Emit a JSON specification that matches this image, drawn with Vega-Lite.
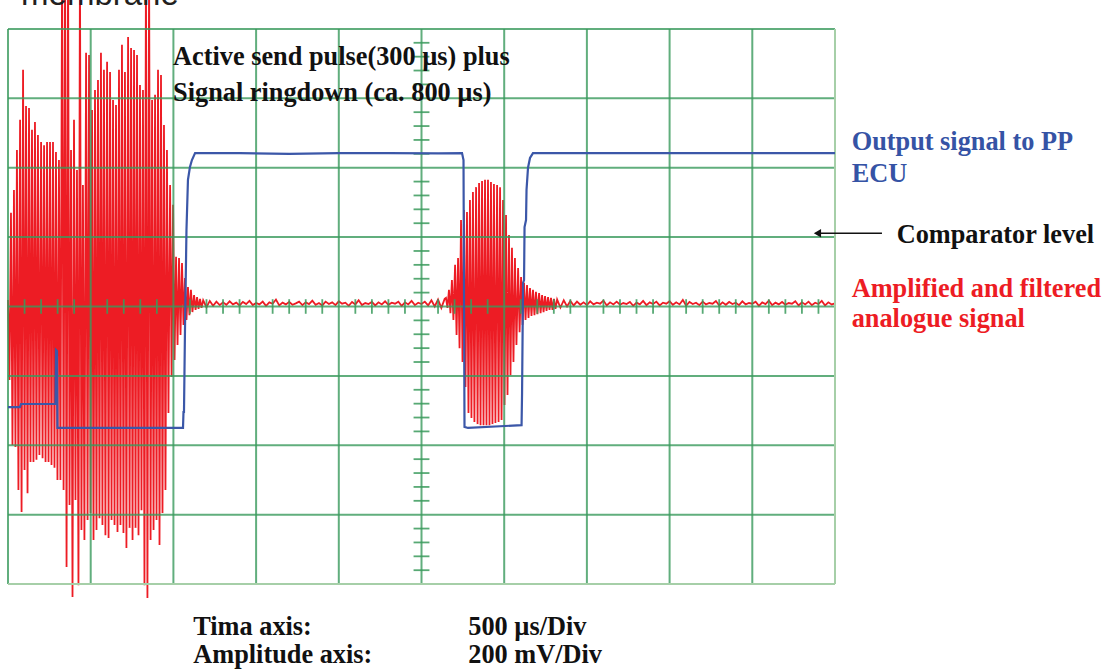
{
  "$schema": "https://vega.github.io/schema/vega-lite/v6.json",
  "width": 1106,
  "height": 670,
  "autosize": {"type": "none"},
  "padding": 0,
  "background": "white",
  "config": {"view": {"stroke": null}},
  "datasets": {
    "red": [
      {"t":0,"v":19},{"t":9,"v":-212},{"t":18,"v":270},{"t":27,"v":-399},{"t":36,"v":336},{"t":45,"v":-405},{"t":54,"v":451},{"t":63,"v":-529},{"t":73,"v":538},{"t":82,"v":-592},{"t":91,"v":682},{"t":100,"v":-471},{"t":109,"v":578},{"t":118,"v":-538},{"t":127,"v":572},{"t":136,"v":-448},{"t":145,"v":509},{"t":154,"v":-448},{"t":163,"v":532},{"t":172,"v":-442},{"t":181,"v":494},{"t":190,"v":-428},{"t":200,"v":474},{"t":209,"v":-437},{"t":218,"v":465},{"t":227,"v":-448},{"t":236,"v":474},{"t":245,"v":-448},{"t":254,"v":474},{"t":263,"v":-457},{"t":272,"v":474},{"t":281,"v":-465},{"t":290,"v":445},{"t":299,"v":-500},{"t":308,"v":422},{"t":317,"v":-500},{"t":327,"v":1000},{"t":336,"v":-529},{"t":345,"v":1000},{"t":354,"v":-751},{"t":363,"v":1000},{"t":372,"v":-572},{"t":381,"v":451},{"t":390,"v":-837},{"t":399,"v":538},{"t":408,"v":-558},{"t":417,"v":393},{"t":426,"v":-803},{"t":435,"v":1000},{"t":444,"v":-644},{"t":453,"v":350},{"t":462,"v":-673},{"t":472,"v":731},{"t":481,"v":-615},{"t":490,"v":725},{"t":499,"v":-595},{"t":508,"v":566},{"t":517,"v":-673},{"t":526,"v":624},{"t":535,"v":-644},{"t":544,"v":653},{"t":553,"v":-610},{"t":562,"v":731},{"t":571,"v":-630},{"t":580,"v":682},{"t":589,"v":-659},{"t":599,"v":705},{"t":608,"v":-667},{"t":617,"v":676},{"t":626,"v":-615},{"t":635,"v":595},{"t":644,"v":-630},{"t":653,"v":581},{"t":662,"v":-650},{"t":671,"v":682},{"t":680,"v":-630},{"t":689,"v":754},{"t":698,"v":-653},{"t":707,"v":676},{"t":716,"v":-696},{"t":726,"v":777},{"t":735,"v":-638},{"t":744,"v":745},{"t":753,"v":-673},{"t":762,"v":739},{"t":771,"v":-638},{"t":780,"v":725},{"t":789,"v":-659},{"t":798,"v":638},{"t":807,"v":-587},{"t":816,"v":624},{"t":825,"v":-803},{"t":834,"v":1000},{"t":843,"v":-840},{"t":853,"v":1000},{"t":862,"v":-673},{"t":871,"v":595},{"t":880,"v":-644},{"t":889,"v":610},{"t":898,"v":-615},{"t":907,"v":682},{"t":916,"v":-687},{"t":925,"v":667},{"t":934,"v":-595},{"t":943,"v":523},{"t":952,"v":-529},{"t":961,"v":451},{"t":970,"v":-307},{"t":980,"v":350},{"t":989,"v":-203},{"t":998,"v":293},{"t":1007,"v":-154},{"t":1016,"v":143},{"t":1025,"v":-111},{"t":1034,"v":140},{"t":1043,"v":-82},{"t":1052,"v":125},{"t":1061,"v":-53},{"t":1070,"v":82},{"t":1079,"v":-39},{"t":1088,"v":56},{"t":1097,"v":-25},{"t":1106,"v":48},{"t":1115,"v":-16},{"t":1125,"v":33},{"t":1134,"v":-10},{"t":1143,"v":27},{"t":1152,"v":-7},{"t":1161,"v":22},{"t":1170,"v":-4},
      {"t":1180,"v":18},{"t":1200,"v":-2},{"t":1220,"v":16},{"t":1240,"v":2},{"t":1260,"v":14},{"t":1280,"v":4},{"t":1300,"v":12},{"t":1320,"v":5},{"t":1340,"v":15},{"t":1360,"v":6},{"t":1380,"v":11},{"t":1400,"v":3},{"t":1420,"v":13},{"t":1440,"v":7},{"t":1460,"v":16},{"t":1480,"v":4},{"t":1500,"v":10},{"t":1520,"v":6},{"t":1540,"v":14},{"t":1560,"v":2},{"t":1580,"v":12},{"t":1600,"v":8},{"t":1620,"v":20},{"t":1640,"v":3},{"t":1660,"v":11},{"t":1680,"v":6},{"t":1700,"v":13},{"t":1720,"v":5},{"t":1740,"v":9},{"t":1760,"v":14},{"t":1780,"v":4},{"t":1800,"v":12},{"t":1820,"v":7},{"t":1840,"v":17},{"t":1860,"v":5},{"t":1880,"v":10},{"t":1900,"v":3},{"t":1920,"v":14},{"t":1940,"v":7},{"t":1960,"v":12},{"t":1980,"v":4},{"t":2000,"v":15},{"t":2020,"v":8},{"t":2040,"v":11},{"t":2060,"v":2},{"t":2080,"v":13},{"t":2100,"v":6},{"t":2120,"v":18},{"t":2140,"v":4},{"t":2160,"v":10},{"t":2180,"v":7},{"t":2200,"v":13},{"t":2220,"v":3},{"t":2240,"v":12},{"t":2260,"v":6},{"t":2280,"v":15},{"t":2300,"v":5},{"t":2320,"v":11},{"t":2340,"v":8},{"t":2360,"v":14},{"t":2380,"v":2},{"t":2400,"v":12},{"t":2420,"v":6},{"t":2440,"v":16},{"t":2460,"v":4},{"t":2480,"v":11},{"t":2500,"v":7},{"t":2520,"v":14},{"t":2540,"v":3},{"t":2560,"v":18},{"t":2580,"v":0},{"t":2600,"v":20},{"t":2620,"v":-4},{"t":2640,"v":22},
      {"t":2648,"v":25},{"t":2657,"v":-4},{"t":2666,"v":48},{"t":2675,"v":-19},{"t":2684,"v":76},{"t":2693,"v":-39},{"t":2703,"v":120},{"t":2712,"v":-82},{"t":2721,"v":140},{"t":2730,"v":-120},{"t":2739,"v":249},{"t":2748,"v":-160},{"t":2757,"v":278},{"t":2766,"v":-232},{"t":2775,"v":272},{"t":2784,"v":-307},{"t":2793,"v":307},{"t":2802,"v":-321},{"t":2811,"v":330},{"t":2820,"v":-333},{"t":2830,"v":344},{"t":2839,"v":-339},{"t":2848,"v":356},{"t":2857,"v":-342},{"t":2866,"v":362},{"t":2875,"v":-342},{"t":2884,"v":365},{"t":2893,"v":-342},{"t":2902,"v":365},{"t":2911,"v":-342},{"t":2920,"v":359},{"t":2929,"v":-339},{"t":2938,"v":353},{"t":2947,"v":-336},{"t":2957,"v":350},{"t":2966,"v":-333},{"t":2975,"v":344},{"t":2984,"v":-327},{"t":2993,"v":307},{"t":3002,"v":-284},{"t":3011,"v":264},{"t":3020,"v":-255},{"t":3029,"v":206},{"t":3038,"v":-198},{"t":3047,"v":169},{"t":3056,"v":-160},{"t":3065,"v":140},{"t":3074,"v":-111},{"t":3084,"v":111},{"t":3093,"v":-74},{"t":3102,"v":85},{"t":3111,"v":-53},{"t":3120,"v":68},{"t":3129,"v":-39},{"t":3138,"v":62},{"t":3147,"v":-33},{"t":3156,"v":53},{"t":3165,"v":-27},{"t":3174,"v":48},{"t":3183,"v":-25},{"t":3192,"v":42},{"t":3201,"v":-22},{"t":3211,"v":39},{"t":3220,"v":-19},{"t":3229,"v":33},{"t":3238,"v":-16},{"t":3247,"v":30},{"t":3256,"v":-13},{"t":3265,"v":27},{"t":3274,"v":-10},{"t":3283,"v":25},{"t":3292,"v":-10},{"t":3301,"v":22},{"t":3310,"v":-7},
      {"t":3320,"v":20},{"t":3340,"v":-3},{"t":3360,"v":18},{"t":3380,"v":0},{"t":3400,"v":16},{"t":3420,"v":3},{"t":3440,"v":14},{"t":3460,"v":5},{"t":3480,"v":12},{"t":3500,"v":4},{"t":3520,"v":15},{"t":3540,"v":6},{"t":3560,"v":11},{"t":3580,"v":8},{"t":3600,"v":17},{"t":3620,"v":3},{"t":3640,"v":12},{"t":3660,"v":6},{"t":3680,"v":14},{"t":3700,"v":5},{"t":3720,"v":10},{"t":3740,"v":7},{"t":3760,"v":13},{"t":3780,"v":2},{"t":3800,"v":11},{"t":3820,"v":6},{"t":3840,"v":16},{"t":3860,"v":4},{"t":3880,"v":12},{"t":3900,"v":7},{"t":3920,"v":14},{"t":3940,"v":3},{"t":3960,"v":11},{"t":3980,"v":8},{"t":4000,"v":15},{"t":4020,"v":5},{"t":4040,"v":12},{"t":4060,"v":6},{"t":4080,"v":19},{"t":4100,"v":2},{"t":4120,"v":13},{"t":4140,"v":7},{"t":4160,"v":11},{"t":4180,"v":4},{"t":4200,"v":14},{"t":4220,"v":6},{"t":4240,"v":10},{"t":4260,"v":8},{"t":4280,"v":16},{"t":4300,"v":3},{"t":4320,"v":12},{"t":4340,"v":5},{"t":4360,"v":13},{"t":4380,"v":7},{"t":4400,"v":11},{"t":4420,"v":4},{"t":4440,"v":15},{"t":4460,"v":6},{"t":4480,"v":10},{"t":4500,"v":8},{"t":4520,"v":14},{"t":4540,"v":2},{"t":4560,"v":12},{"t":4580,"v":7},{"t":4600,"v":17},{"t":4620,"v":4},{"t":4640,"v":11},{"t":4660,"v":6},{"t":4680,"v":13},{"t":4700,"v":5},{"t":4720,"v":10},{"t":4740,"v":8},{"t":4760,"v":15},{"t":4780,"v":3},{"t":4800,"v":12},{"t":4820,"v":6},{"t":4840,"v":14},{"t":4860,"v":4},{"t":4880,"v":11},{"t":4900,"v":7},{"t":4920,"v":16},{"t":4940,"v":3},{"t":4960,"v":12},{"t":4980,"v":6},{"t":5000,"v":9}
    ],
    "blue": [
      {"t":0,"v":-290},{"t":72,"v":-290},{"t":79,"v":-281},{"t":287,"v":-281},{"t":290,"v":-125},{"t":296,"v":-128},{"t":299,"v":-350},{"t":1058,"v":-350},{"t":1061,"v":-304},{"t":1064,"v":-304},{"t":1070,"v":-68},{"t":1079,"v":220},{"t":1088,"v":365},{"t":1100,"v":402},{"t":1112,"v":422},{"t":1131,"v":442},{"t":1400,"v":442},{"t":1700,"v":440},{"t":2000,"v":442},{"t":2300,"v":442},{"t":2600,"v":441},{"t":2745,"v":442},{"t":2754,"v":422},{"t":2760,"v":-347},{"t":2781,"v":-350},{"t":3105,"v":-342},{"t":3108,"v":-249},{"t":3114,"v":68},{"t":3120,"v":76},{"t":3123,"v":229},{"t":3132,"v":249},{"t":3135,"v":336},{"t":3144,"v":400},{"t":3156,"v":428},{"t":3174,"v":442},{"t":5000,"v":442}
    ],
    "gridV": [{"t":0},{"t":500},{"t":1000},{"t":1500},{"t":2000},{"t":2500},{"t":3000},{"t":3500},{"t":4000},{"t":4500}],
    "gridH": [{"v":-600},{"v":-400},{"v":-200},{"v":0},{"v":200},{"v":400},{"v":600},{"v":800}],
    "vticks": [{"v":-760},{"v":-720},{"v":-680},{"v":-640},{"v":-560},{"v":-520},{"v":-480},{"v":-440},{"v":-360},{"v":-320},{"v":-280},{"v":-240},{"v":-160},{"v":-120},{"v":-80},{"v":-40},{"v":40},{"v":80},{"v":120},{"v":160},{"v":240},{"v":280},{"v":320},{"v":360},{"v":440},{"v":480},{"v":520},{"v":560},{"v":640},{"v":680},{"v":720},{"v":760}],
    "hticks": [{"t":100},{"t":200},{"t":300},{"t":400},{"t":600},{"t":700},{"t":800},{"t":900},{"t":1100},{"t":1200},{"t":1300},{"t":1400},{"t":1600},{"t":1700},{"t":1800},{"t":1900},{"t":2100},{"t":2200},{"t":2300},{"t":2400},{"t":2600},{"t":2700},{"t":2800},{"t":2900},{"t":3100},{"t":3200},{"t":3300},{"t":3400},{"t":3600},{"t":3700},{"t":3800},{"t":3900},{"t":4100},{"t":4200},{"t":4300},{"t":4400},{"t":4600},{"t":4700},{"t":4800},{"t":4900}],
    "one": [{"k": 1}]
  },
  "layer": [
    {"data": {"name": "red"}, "mark": {"type": "line", "color": "#ed1c24", "strokeWidth": 1.8, "clip": true},
     "encoding": {"x": {"field": "t", "type": "quantitative", "scale": {"domain": [-48.4, 6638.5], "nice": false, "zero": false}, "axis": null},
                  "y": {"field": "v", "type": "quantitative", "scale": {"domain": [-1047.6, 883.3], "nice": false, "zero": false}, "axis": null}}},
    {"data": {"name": "gridV"}, "mark": {"type": "rule", "color": "#3a9a5c", "strokeWidth": 2, "opacity": 0.8}, "encoding": {"x": {"field": "t", "type": "quantitative"}, "y": {"datum": -800}, "y2": {"datum": 800}}},
    {"data": {"name": "gridH"}, "mark": {"type": "rule", "color": "#3a9a5c", "strokeWidth": 2, "opacity": 0.8}, "encoding": {"y": {"field": "v", "type": "quantitative"}, "x": {"datum": 0}, "x2": {"datum": 5000}}},
    {"data": {"name": "one"}, "mark": {"type": "rule", "color": "#a6cfa8", "strokeWidth": 2}, "encoding": {"x": {"datum": 5000}, "y": {"datum": -800}, "y2": {"datum": 800}}},
    {"data": {"name": "one"}, "mark": {"type": "rule", "color": "#a6cfa8", "strokeWidth": 2}, "encoding": {"x": {"datum": 0}, "x2": {"datum": 5000}, "y": {"datum": -800}}},
    {"data": {"name": "vticks"}, "mark": {"type": "rule", "color": "#3a9a5c", "strokeWidth": 1.8, "opacity": 0.85}, "encoding": {"y": {"field": "v", "type": "quantitative"}, "x": {"datum": 2452}, "x2": {"datum": 2548}}},
    {"data": {"name": "hticks"}, "mark": {"type": "rule", "color": "#3a9a5c", "strokeWidth": 1.8, "opacity": 0.85}, "encoding": {"x": {"field": "t", "type": "quantitative"}, "y": {"datum": -21}, "y2": {"datum": 21}}},
    {"data": {"name": "blue"}, "mark": {"type": "line", "color": "#3b57a8", "strokeWidth": 2.2}, "encoding": {"x": {"field": "t", "type": "quantitative"}, "y": {"field": "v", "type": "quantitative"}}},
    {"data": {"name": "one"}, "mark": {"type": "rule", "color": "#111111", "strokeWidth": 1.5}, "encoding": {"x": {"datum": 4885}, "x2": {"datum": 5284}, "y": {"datum": 211}}},
    {"data": {"name": "one"}, "mark": {"type": "point", "shape": "triangle-left", "size": 70, "filled": true, "color": "#111111", "opacity": 1}, "encoding": {"x": {"datum": 4894}, "y": {"datum": 211}}},
    {"data": {"name": "one"}, "mark": {"type": "text", "align": "left", "baseline": "alphabetic", "font": "Liberation Sans", "fontSize": 33, "color": "#231f20"}, "encoding": {"x": {"datum": 79}, "y": {"datum": 869}, "text": {"value": "membrane"}}},
    {"data": {"name": "one"}, "mark": {"type": "text", "align": "left", "baseline": "alphabetic", "font": "Liberation Serif", "fontWeight": "bold", "fontSize": 26.3, "color": "#111111"}, "encoding": {"x": {"datum": 998}, "y": {"datum": 696}, "text": {"value": "Active send pulse(300 µs) plus"}}},
    {"data": {"name": "one"}, "mark": {"type": "text", "align": "left", "baseline": "alphabetic", "font": "Liberation Serif", "fontWeight": "bold", "fontSize": 26.3, "color": "#111111"}, "encoding": {"x": {"datum": 998}, "y": {"datum": 592}, "text": {"value": "Signal ringdown (ca. 800 µs)"}}},
    {"data": {"name": "one"}, "mark": {"type": "text", "align": "left", "baseline": "alphabetic", "font": "Liberation Serif", "fontWeight": "bold", "fontSize": 26.3, "color": "#3553a5"}, "encoding": {"x": {"datum": 5101}, "y": {"datum": 451}, "text": {"value": "Output signal to PP"}}},
    {"data": {"name": "one"}, "mark": {"type": "text", "align": "left", "baseline": "alphabetic", "font": "Liberation Serif", "fontWeight": "bold", "fontSize": 26.3, "color": "#3553a5"}, "encoding": {"x": {"datum": 5101}, "y": {"datum": 360}, "text": {"value": "ECU"}}},
    {"data": {"name": "one"}, "mark": {"type": "text", "align": "left", "baseline": "alphabetic", "font": "Liberation Serif", "fontWeight": "bold", "fontSize": 26.3, "color": "#111111"}, "encoding": {"x": {"datum": 5373}, "y": {"datum": 182}, "text": {"value": "Comparator level"}}},
    {"data": {"name": "one"}, "mark": {"type": "text", "align": "left", "baseline": "alphabetic", "font": "Liberation Serif", "fontWeight": "bold", "fontSize": 26.3, "color": "#ed1c24"}, "encoding": {"x": {"datum": 5101}, "y": {"datum": 28}, "text": {"value": "Amplified and filtered"}}},
    {"data": {"name": "one"}, "mark": {"type": "text", "align": "left", "baseline": "alphabetic", "font": "Liberation Serif", "fontWeight": "bold", "fontSize": 26.3, "color": "#ed1c24"}, "encoding": {"x": {"datum": 5101}, "y": {"datum": -59}, "text": {"value": "analogue signal"}}},
    {"data": {"name": "one"}, "mark": {"type": "text", "align": "left", "baseline": "alphabetic", "font": "Liberation Serif", "fontWeight": "bold", "fontSize": 26.3, "color": "#111111"}, "encoding": {"x": {"datum": 1120}, "y": {"datum": -948}, "text": {"value": "Tima axis:"}}},
    {"data": {"name": "one"}, "mark": {"type": "text", "align": "left", "baseline": "alphabetic", "font": "Liberation Serif", "fontWeight": "bold", "fontSize": 26.3, "color": "#111111"}, "encoding": {"x": {"datum": 1120}, "y": {"datum": -1027}, "text": {"value": "Amplitude axis:"}}},
    {"data": {"name": "one"}, "mark": {"type": "text", "align": "left", "baseline": "alphabetic", "font": "Liberation Serif", "fontWeight": "bold", "fontSize": 26.3, "color": "#111111"}, "encoding": {"x": {"datum": 2783}, "y": {"datum": -948}, "text": {"value": "500 µs/Div"}}},
    {"data": {"name": "one"}, "mark": {"type": "text", "align": "left", "baseline": "alphabetic", "font": "Liberation Serif", "fontWeight": "bold", "fontSize": 26.3, "color": "#111111"}, "encoding": {"x": {"datum": 2783}, "y": {"datum": -1027}, "text": {"value": "200 mV/Div"}}}
  ]
}
